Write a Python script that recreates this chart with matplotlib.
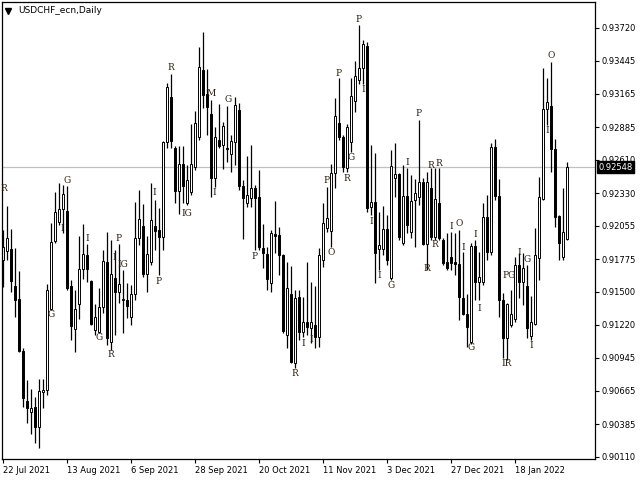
import numpy as np
import pandas as pd
import matplotlib
matplotlib.use('Agg')
import matplotlib.pyplot as plt
import matplotlib.transforms as mtransforms

# daily OHLC, USDCHF
opens = [0.91767, 0.91843, 0.91859, 0.91548, 0.91438, 0.91000, 0.90580, 0.90487, 0.90529, 0.90361,
         0.90655, 0.90672, 0.91354, 0.91927, 0.92086, 0.92196, 0.92179, 0.91548, 0.91186, 0.91396,
         0.91691, 0.91809, 0.91590, 0.91177, 0.91161, 0.91371, 0.91750, 0.91076, 0.91615, 0.91497,
         0.91430, 0.91430, 0.91287, 0.91480, 0.91952, 0.92053, 0.91649, 0.91750, 0.92053, 0.92019,
         0.91960, 0.92760, 0.93139, 0.92710, 0.92348, 0.92575, 0.92247, 0.92339, 0.92550, 0.92803,
         0.93366, 0.93165, 0.92996, 0.92457, 0.92777, 0.92735, 0.92710, 0.92659, 0.92760, 0.93030,
         0.92390, 0.92247, 0.92289, 0.92373, 0.92297, 0.91868, 0.91817, 0.91573, 0.91985, 0.91977,
         0.91809, 0.91135, 0.91480, 0.90899, 0.91455, 0.91161, 0.91245, 0.91194, 0.91220, 0.91118,
         0.91767, 0.92036, 0.92011, 0.92499, 0.92920, 0.92803, 0.92542, 0.92760, 0.93106, 0.93282,
         0.93383, 0.93569, 0.92213, 0.92255, 0.91859, 0.91859, 0.92028, 0.91615, 0.92457, 0.92491,
         0.91910, 0.92306, 0.92002, 0.92272, 0.92297, 0.92424, 0.91901, 0.92373, 0.91960, 0.92247,
         0.91935, 0.91750, 0.91792, 0.91750, 0.91733, 0.91447, 0.91312, 0.91076, 0.91885, 0.91581,
         0.91581, 0.92129, 0.91834, 0.92718, 0.92306, 0.91430, 0.91110, 0.91220, 0.91270, 0.91725,
         0.91581, 0.91548, 0.91127, 0.91228, 0.91784, 0.92280, 0.93038, 0.93063, 0.92701, 0.92137,
         0.91792, 0.91943]
highs = [0.92019, 0.92221, 0.92028, 0.91868, 0.91674, 0.91026, 0.90756, 0.90680, 0.90613, 0.90765,
         0.90765, 0.91564, 0.92078, 0.92339, 0.92415, 0.92398, 0.92390, 0.91598, 0.91514, 0.91969,
         0.92070, 0.91901, 0.91598, 0.91396, 0.91531, 0.91851, 0.92002, 0.91935, 0.91851, 0.91901,
         0.91682, 0.91573, 0.91556, 0.92255, 0.92356, 0.92238, 0.91969, 0.92415, 0.92272, 0.92204,
         0.92769, 0.93257, 0.93333, 0.92727, 0.92727, 0.92727, 0.92567, 0.92912, 0.93021, 0.93561,
         0.93687, 0.93375, 0.93114, 0.92887, 0.93080, 0.92929, 0.93063, 0.92819, 0.93139, 0.93089,
         0.92440, 0.92643, 0.92735, 0.92398, 0.92525, 0.92070, 0.91876, 0.92019, 0.92263, 0.92044,
         0.91817, 0.91750, 0.91716, 0.91514, 0.91514, 0.91455, 0.91750, 0.91581, 0.91548, 0.91868,
         0.92247, 0.92381, 0.92575, 0.93131, 0.93299, 0.92819, 0.92912, 0.93299, 0.93442, 0.93745,
         0.93619, 0.93602, 0.92735, 0.92668, 0.92171, 0.92221, 0.92145, 0.92693, 0.92752, 0.92499,
         0.92567, 0.92542, 0.92483, 0.92449, 0.92946, 0.92457, 0.92508, 0.92542, 0.92542, 0.92542,
         0.91952, 0.91994, 0.92002, 0.91994, 0.92019, 0.91834, 0.91480, 0.91910, 0.91935, 0.91834,
         0.92247, 0.92314, 0.92752, 0.92786, 0.92449, 0.91489, 0.91405, 0.91514, 0.91792, 0.91826,
         0.91826, 0.91725, 0.91463, 0.92036, 0.92466, 0.93383, 0.93299, 0.93434, 0.92786, 0.92145,
         0.92373, 0.92592]
lows = [0.91539, 0.91767, 0.91497, 0.91287, 0.90992, 0.90529, 0.90394, 0.90302, 0.90226, 0.90184,
        0.90521, 0.90630, 0.91346, 0.91910, 0.92061, 0.91994, 0.91514, 0.91093, 0.90992, 0.91270,
        0.91607, 0.91581, 0.91220, 0.91135, 0.91152, 0.91320, 0.91051, 0.91009, 0.91135, 0.91405,
        0.91152, 0.91279, 0.91220, 0.91430, 0.91893, 0.91624, 0.91497, 0.91725, 0.91851, 0.91640,
        0.91851, 0.92710, 0.92710, 0.92247, 0.92154, 0.92247, 0.92230, 0.92314, 0.92525, 0.92777,
        0.93046, 0.92819, 0.92297, 0.92381, 0.92710, 0.92533, 0.92592, 0.92508, 0.92567, 0.92356,
        0.91943, 0.92213, 0.92213, 0.91851, 0.91851, 0.91699, 0.91514, 0.91497, 0.91826, 0.91640,
        0.91152, 0.91026, 0.90899, 0.90857, 0.91093, 0.91118, 0.91135, 0.91068, 0.91026, 0.91034,
        0.91708, 0.92002, 0.91876, 0.92373, 0.92777, 0.92508, 0.92508, 0.92676, 0.93013, 0.93249,
        0.93249, 0.92171, 0.92145, 0.91573, 0.91682, 0.91809, 0.91725, 0.91598, 0.92297, 0.91935,
        0.91893, 0.91994, 0.91952, 0.91876, 0.92230, 0.91893, 0.91682, 0.91935, 0.91935, 0.91935,
        0.91725, 0.91682, 0.91682, 0.91640, 0.91262, 0.91304, 0.91034, 0.91059, 0.91430, 0.91430,
        0.91556, 0.91767, 0.91809, 0.92272, 0.91287, 0.90942, 0.90925, 0.91203, 0.91245, 0.91447,
        0.91388, 0.91110, 0.91093, 0.91220, 0.91598, 0.92272, 0.92903, 0.92508, 0.92044, 0.91767,
        0.91767, 0.91935]
closes = [0.91876, 0.91952, 0.91590, 0.91430, 0.91000, 0.90605, 0.90521, 0.90521, 0.90361, 0.90664,
          0.90672, 0.91514, 0.91918, 0.92171, 0.92196, 0.92321, 0.91531, 0.91211, 0.91354, 0.91691,
          0.91817, 0.91691, 0.91228, 0.91287, 0.91371, 0.91758, 0.91110, 0.91649, 0.91497, 0.91564,
          0.91438, 0.91379, 0.91480, 0.91952, 0.92112, 0.91649, 0.91817, 0.92103, 0.92011, 0.91960,
          0.92760, 0.93223, 0.92769, 0.92348, 0.92575, 0.92390, 0.92440, 0.92575, 0.92920, 0.93392,
          0.93156, 0.93055, 0.92457, 0.92803, 0.92727, 0.92895, 0.92701, 0.92769, 0.93072, 0.92390,
          0.92289, 0.92314, 0.92373, 0.92289, 0.91876, 0.91826, 0.91607, 0.91994, 0.91969, 0.91809,
          0.91169, 0.91531, 0.90908, 0.91447, 0.91161, 0.91245, 0.91203, 0.91245, 0.91118, 0.91809,
          0.92078, 0.92120, 0.92499, 0.92979, 0.92803, 0.92550, 0.92887, 0.93148, 0.93316, 0.93383,
          0.93586, 0.92204, 0.92255, 0.91826, 0.91893, 0.92028, 0.91767, 0.92559, 0.92491, 0.91960,
          0.92306, 0.92061, 0.92263, 0.92331, 0.92424, 0.91901, 0.92424, 0.91960, 0.92280, 0.91952,
          0.91741, 0.91699, 0.91741, 0.91733, 0.91455, 0.91312, 0.91203, 0.91885, 0.91581, 0.91624,
          0.92129, 0.91834, 0.92718, 0.92306, 0.91430, 0.91110, 0.91396, 0.91312, 0.91725, 0.91581,
          0.91699, 0.91194, 0.91245, 0.91809, 0.92297, 0.93038, 0.93097, 0.92701, 0.92129, 0.91910,
          0.92002, 0.92548]

# pattern letters: text, bar position, price
mark_text = ['R', 'G', 'I', 'G', 'I', 'G', 'R', 'I', 'P', 'IG', 'I', 'P', 'R', 'IG', 'M', 'I', 'G',
             'P', 'R', 'I', 'I', 'O', 'P', 'P', 'R', 'G', 'P', 'I', 'I', 'I', 'G', 'I', 'P', 'R',
             'R', 'R', 'R', 'I', 'O', 'I', 'G', 'I', 'I', 'IR', 'PG', 'I', 'G', 'I', 'O', 'I']
mark_pos = [0.3, 16, 14.75, 12, 21, 24, 27, 27.75, 29, 30, 37.75, 39, 42, 46, 52, 52.75, 56.25,
            63, 73, 75, 77, 82, 81, 84, 86, 87, 89, 90, 92, 94, 97, 101, 104, 106,
            107, 109, 108, 112, 114, 115, 117, 118, 119, 126, 126.5, 129, 131, 132, 137, 136]
mark_price = [0.92365, 0.92440, 0.92028, 0.91304, 0.91952, 0.91118, 0.90975, 0.91784, 0.91952,
              0.91733, 0.92331, 0.91590, 0.93383, 0.92162, 0.93165, 0.92331, 0.93114, 0.91800,
              0.90815, 0.91068, 0.91101, 0.91826, 0.92432, 0.93333, 0.92449, 0.92626, 0.93788,
              0.93198, 0.92095, 0.91640, 0.91556, 0.92584, 0.92996, 0.91699, 0.92559, 0.92575,
              0.91901, 0.92053, 0.92070, 0.91868, 0.91034, 0.91985, 0.91362, 0.90899, 0.91640,
              0.91834, 0.91775, 0.91051, 0.93485, 0.92853]

price_ticks = [0.93720, 0.93445, 0.93165, 0.92885, 0.92610, 0.92330, 0.92055,
               0.91775, 0.91500, 0.91220, 0.90945, 0.90665, 0.90385, 0.90110]

dates = pd.bdate_range('2021-07-22', periods=len(opens))

o = np.array(opens)
h = np.array(highs)
l = np.array(lows)
c = np.array(closes)
x = np.arange(len(o))

fig = plt.figure(figsize=(6.4, 4.8), dpi=100)
ax = fig.add_axes([0.003, 0.044, 0.9266, 0.952])

ax.axhline(c[-1], color='#c0c0c0', lw=0.9, zorder=0)

ax.vlines(x, l, h, color='black', lw=0.9, zorder=1)
up = c >= o
ax.bar(x, np.abs(c - o), bottom=np.minimum(o, c), width=0.62,
       color=np.where(up, 'white', 'black'), edgecolor='black', linewidth=0.7, zorder=2)

for t, p, v in zip(mark_text, mark_pos, mark_price):
    ax.text(p, v, t, ha='center', va='center', fontsize=6.5, family='DejaVu Serif',
            color='#2a1e10', zorder=3)

ax.set_xlim(-0.25, 148)
ax.set_ylim(0.90093, 0.93939)

ax.yaxis.tick_right()
ax.set_yticks(price_ticks)
ax.set_yticklabels(['%.5f' % v for v in price_ticks])
date_idx = list(range(0, len(o), 16))
ax.set_xticks(date_idx)
ax.set_xticklabels([f"{dates[i].day} {dates[i].strftime('%b %Y')}" for i in date_idx], ha='left')
ax.tick_params(axis='both', length=3, width=0.8, labelsize=6, pad=1.5, colors='black')
ax.tick_params(axis='x', pad=2)
for s in ax.spines.values():
    s.set_linewidth(0.9)

# current price box
trans = mtransforms.blended_transform_factory(ax.transAxes, ax.transData)
ax.text(1.006, c[-1], '%.5f' % c[-1], transform=trans, ha='left', va='center', fontsize=6,
        color='white', bbox=dict(facecolor='black', edgecolor='black', pad=1.2), zorder=5)

# symbol title
ax.plot([0.0105], [0.981], marker='v', ms=4, color='black', transform=ax.transAxes, clip_on=False)
ax.text(0.027, 0.981, 'USDCHF_ecn,Daily', transform=ax.transAxes, fontsize=6.5,
        va='center', ha='left', color='black')

plt.savefig('out.png', dpi=100)
